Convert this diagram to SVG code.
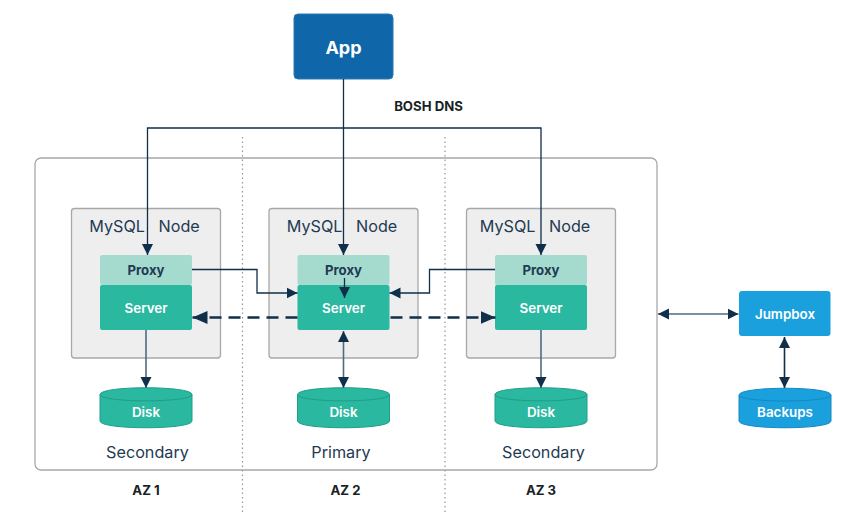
<svg xmlns="http://www.w3.org/2000/svg" width="853" height="523" viewBox="0 0 853 523">
<style>
text{font-family:Inter,Lato,"Liberation Sans",sans-serif;text-anchor:middle}
.b{font-weight:600;font-size:13.400px;fill:#fff}
.bk{font-weight:700;font-size:13.200px;fill:#1a1f26}
.lab{font-size:16.200px;fill:#1f3a52}
.m{word-spacing:9px}
.node{fill:#eeeeee;stroke:#a8a8a8;stroke-width:1.3}
.proxy{fill:#a5dacf}
.server{fill:#2bb8a0}
.disk{fill:#2bb8a0;stroke:#1f9e89;stroke-width:1}
.blue{fill:#1ba0de;stroke:#1488c2;stroke-width:1}
.c{fill:none;stroke:#0f2f4a;stroke-width:1.3}
.c2{fill:none;stroke:#4f6b80;stroke-width:1.6}
.d{fill:none;stroke:#0f2f4a;stroke-width:2.6;stroke-dasharray:12 7}
.dot{fill:none;stroke:#8a97a6;stroke-width:1.2;stroke-dasharray:1.5 3}
</style>
<defs>
<marker id="a" markerUnits="userSpaceOnUse" markerWidth="12" markerHeight="12" refX="11" refY="6" orient="auto-start-reverse"><path d="M0 0.5L11 6L0 11.5Z" fill="#0f2f4a"/></marker>
<marker id="l" markerUnits="userSpaceOnUse" markerWidth="16" markerHeight="14" refX="15" refY="7" orient="auto-start-reverse"><path d="M0 0.5L15 7L0 13.500Z" fill="#0f2f4a"/></marker>
</defs>
<g id="zones">
<path class="dot" d="M242.500 137V512M445 137V512"/>
<rect x="35" y="158" width="622" height="312" rx="6" fill="none" stroke="#a8a8a8" stroke-width="1.3"/>
</g>
<g id="node-1"><rect class="node" x="71.500" y="208.500" width="149" height="149.500" rx="3"/><text class="lab m" x="144.500" y="232">MySQL Node</text></g>
<g id="node-2"><rect class="node" x="269" y="208.500" width="149" height="149.500" rx="3"/><text class="lab m" x="342" y="232">MySQL Node</text></g>
<g id="node-3"><rect class="node" x="466.500" y="208.500" width="149" height="149.500" rx="3"/><text class="lab m" x="535" y="232">MySQL Node</text></g>
<g id="app"><rect x="294" y="14" width="99" height="65" rx="4" fill="#0f66a8" stroke="#2a7ab5"/><text x="343.500" y="54" style="font-weight:700;font-size:18px;fill:#fff">App</text></g>
<g id="proxy-1"><rect class="proxy" x="100" y="255" width="92" height="30" rx="2"/><text class="bk" x="146" y="275" style="fill:#1f3a52">Proxy</text></g>
<g id="server-1"><rect class="server" x="100" y="285" width="92" height="45" rx="2"/><text class="b" x="146" y="313">Server</text></g>
<g id="proxy-2"><rect class="proxy" x="297.500" y="255" width="92" height="30" rx="2"/><text class="bk" x="343.500" y="275" style="fill:#1f3a52">Proxy</text></g>
<g id="server-2"><rect class="server" x="297.500" y="285" width="92" height="45" rx="2"/><text class="b" x="343.500" y="313">Server</text></g>
<g id="proxy-3"><rect class="proxy" x="495" y="255" width="92" height="30" rx="2"/><text class="bk" x="541" y="275" style="fill:#1f3a52">Proxy</text></g>
<g id="server-3"><rect class="server" x="495" y="285" width="92" height="45" rx="2"/><text class="b" x="541" y="313">Server</text></g>
<g id="disk-1"><path class="disk" d="M100 394.500C100 385.500 192 385.500 192 394.500V421C192 430 100 430 100 421Z"/><path class="disk" style="fill:none" d="M100 394.500C100 403 192 403 192 394.500"/><text class="b" x="146" y="417">Disk</text></g>
<g id="disk-2"><path class="disk" d="M297.500 394.500C297.500 385.500 389.500 385.500 389.500 394.500V421C389.500 430 297.500 430 297.500 421Z"/><path class="disk" style="fill:none" d="M297.500 394.500C297.500 403 389.500 403 389.500 394.500"/><text class="b" x="343.500" y="417">Disk</text></g>
<g id="disk-3"><path class="disk" d="M495 394.500C495 385.500 587 385.500 587 394.500V421C587 430 495 430 495 421Z"/><path class="disk" style="fill:none" d="M495 394.500C495 403 587 403 587 394.500"/><text class="b" x="541" y="417">Disk</text></g>
<g id="jumpbox"><rect x="739" y="291" width="91.500" height="45" rx="3" fill="#1ba0de"/><text class="b" x="785" y="319">Jumpbox</text></g>
<g id="backups"><path class="blue" d="M739 395C739 386 831 386 831 395V421C831 430 739 430 739 421Z"/><path class="blue" style="fill:none" d="M739 395C739 403 831 403 831 395"/><text class="b" x="785" y="417">Backups</text></g>
<g id="connectors">
<path class="c" marker-end="url(#a)" d="M343.500 79V255"/>
<path class="c" marker-end="url(#a)" d="M343.500 128H147.500V255"/>
<path class="c" marker-end="url(#a)" d="M343.500 128H541V255"/>
<path class="c" marker-end="url(#a)" d="M192 269.500H257V293H297.500"/>
<path class="c" marker-end="url(#a)" d="M495 269.500H429.500V293H389.500"/>
<path class="c" marker-end="url(#a)" d="M344.500 278V298"/>
<path class="c2" marker-end="url(#a)" d="M146 330V388"/>
<path class="c2" marker-start="url(#a)" marker-end="url(#a)" d="M343.500 331V388"/>
<path class="c2" marker-end="url(#a)" d="M541 330V388"/>
<path class="d" marker-end="url(#l)" d="M297.500 317.500H192.500"/>
<path class="d" marker-end="url(#l)" d="M390.500 317.500H495.500"/>
<path class="c2" marker-start="url(#a)" marker-end="url(#a)" d="M658 314H738.500"/>
<path class="c" style="stroke-width:1.6" marker-start="url(#a)" marker-end="url(#a)" d="M784.500 337V388"/>
</g>
<g id="labels">
<text x="428.500" y="111" class="bk">BOSH DNS</text>
<text class="lab" x="147.500" y="458">Secondary</text>
<text class="lab" x="341" y="458">Primary</text>
<text class="lab" x="543.500" y="458">Secondary</text>
<text class="bk" x="146" y="495">AZ 1</text>
<text class="bk" x="345.500" y="495">AZ 2</text>
<text class="bk" x="541" y="495">AZ 3</text>
</g>
</svg>
